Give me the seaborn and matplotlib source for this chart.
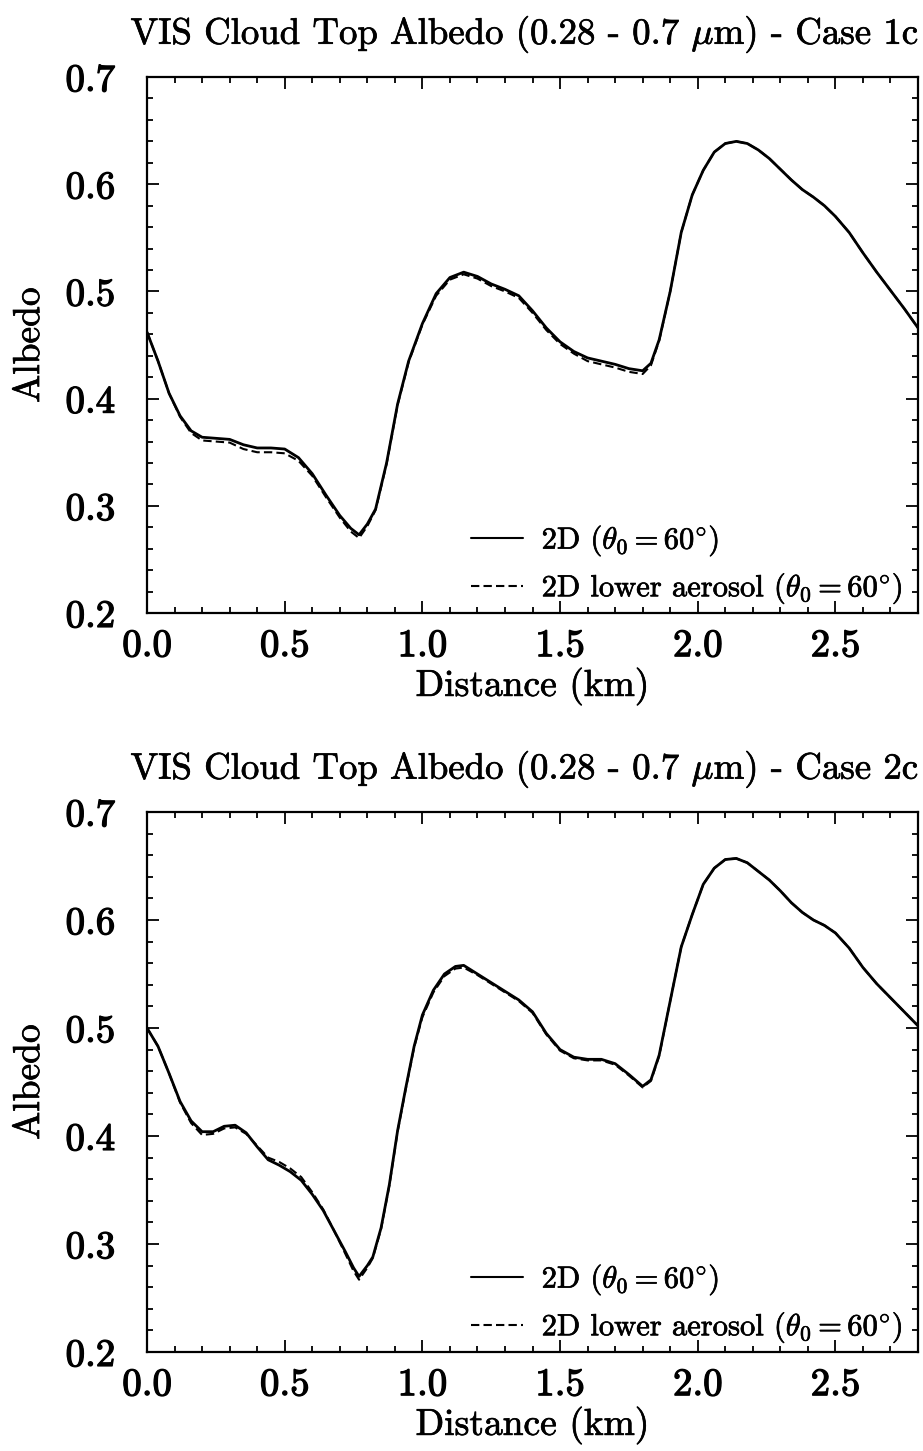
import matplotlib
matplotlib.use("Agg")
import matplotlib.pyplot as plt
import matplotlib.patheffects as pe
import numpy as np
import pandas as pd
import seaborn as sns
from matplotlib.ticker import MultipleLocator, FormatStrFormatter

# ---- Case 1c ----
distance_1c = [0.00, 0.04, 0.08, 0.12, 0.16, 0.20, 0.25, 0.30, 0.35, 0.40, 0.45, 0.50,
               0.55, 0.60, 0.65, 0.70, 0.74, 0.77, 0.80, 0.83, 0.87, 0.91, 0.95, 1.00,
               1.05, 1.10, 1.15, 1.20, 1.25, 1.30, 1.35, 1.40, 1.45, 1.50, 1.55, 1.60,
               1.65, 1.70, 1.75, 1.80, 1.83, 1.86, 1.90, 1.94, 1.98, 2.02, 2.06, 2.10,
               2.14, 2.18, 2.22, 2.26, 2.30, 2.34, 2.38, 2.42, 2.46, 2.50, 2.55, 2.60,
               2.65, 2.70, 2.75, 2.80]
albedo_2d_1c = [0.462, 0.435, 0.405, 0.384, 0.370, 0.364, 0.363, 0.362, 0.357, 0.354, 0.354, 0.353,
                0.345, 0.330, 0.310, 0.291, 0.279, 0.273, 0.283, 0.297, 0.340, 0.395, 0.435, 0.470,
                0.498, 0.513, 0.518, 0.514, 0.507, 0.502, 0.496, 0.482, 0.466, 0.453, 0.444, 0.438,
                0.435, 0.432, 0.428, 0.426, 0.433, 0.455, 0.500, 0.555, 0.590, 0.613, 0.630, 0.638,
                0.640, 0.638, 0.632, 0.624, 0.614, 0.604, 0.595, 0.588, 0.580, 0.570, 0.555, 0.536,
                0.518, 0.501, 0.484, 0.466]
albedo_low_1c = [0.462, 0.435, 0.405, 0.383, 0.368, 0.361, 0.360, 0.359, 0.353, 0.350, 0.350, 0.349,
                 0.342, 0.328, 0.308, 0.289, 0.276, 0.270, 0.281, 0.296, 0.339, 0.394, 0.434, 0.469,
                 0.496, 0.511, 0.516, 0.512, 0.505, 0.500, 0.494, 0.480, 0.464, 0.451, 0.442, 0.435,
                 0.432, 0.429, 0.425, 0.423, 0.431, 0.454, 0.500, 0.555, 0.590, 0.613, 0.630, 0.638,
                 0.640, 0.638, 0.632, 0.624, 0.614, 0.604, 0.595, 0.588, 0.580, 0.570, 0.555, 0.536,
                 0.518, 0.501, 0.484, 0.466]

# ---- Case 2c ----
distance_2c = [0.00, 0.04, 0.08, 0.12, 0.16, 0.20, 0.24, 0.28, 0.32, 0.36, 0.40, 0.44,
               0.48, 0.52, 0.56, 0.60, 0.64, 0.68, 0.72, 0.75, 0.77, 0.80, 0.82, 0.85,
               0.88, 0.91, 0.94, 0.97, 1.00, 1.04, 1.08, 1.12, 1.15, 1.20, 1.25, 1.30,
               1.35, 1.40, 1.45, 1.50, 1.55, 1.60, 1.65, 1.70, 1.75, 1.80, 1.83, 1.86,
               1.90, 1.94, 1.98, 2.02, 2.06, 2.10, 2.14, 2.18, 2.22, 2.26, 2.30, 2.34,
               2.38, 2.42, 2.46, 2.50, 2.55, 2.60, 2.65, 2.70, 2.75, 2.80]
albedo_2d_2c = [0.500, 0.483, 0.458, 0.432, 0.414, 0.404, 0.404, 0.409, 0.410, 0.403, 0.390, 0.378,
                0.373, 0.367, 0.359, 0.346, 0.331, 0.312, 0.293, 0.278, 0.270, 0.280, 0.288, 0.315,
                0.355, 0.405, 0.445, 0.483, 0.512, 0.535, 0.550, 0.557, 0.558, 0.550, 0.542, 0.534,
                0.526, 0.515, 0.495, 0.480, 0.473, 0.471, 0.471, 0.467, 0.457, 0.446, 0.452, 0.475,
                0.525, 0.575, 0.605, 0.633, 0.648, 0.656, 0.657, 0.653, 0.645, 0.637, 0.627, 0.616,
                0.607, 0.600, 0.595, 0.588, 0.574, 0.556, 0.541, 0.528, 0.515, 0.502]
albedo_low_2c = [0.500, 0.483, 0.458, 0.431, 0.412, 0.401, 0.402, 0.407, 0.408, 0.402, 0.391, 0.380,
                 0.376, 0.370, 0.362, 0.348, 0.332, 0.312, 0.291, 0.275, 0.267, 0.278, 0.287, 0.314,
                 0.354, 0.404, 0.444, 0.482, 0.510, 0.533, 0.548, 0.555, 0.556, 0.549, 0.541, 0.533,
                 0.525, 0.514, 0.494, 0.479, 0.472, 0.470, 0.470, 0.466, 0.456, 0.445, 0.451, 0.474,
                 0.525, 0.575, 0.605, 0.633, 0.648, 0.656, 0.657, 0.653, 0.645, 0.637, 0.627, 0.616,
                 0.607, 0.600, 0.595, 0.588, 0.574, 0.556, 0.541, 0.528, 0.515, 0.502]

x_ticks = [0.0, 0.5, 1.0, 1.5, 2.0, 2.5]
y_ticks = [0.2, 0.3, 0.4, 0.5, 0.6, 0.7]
case_names = ["1c", "2c"]
label_2d = r"2D ($\theta_0 = 60^{\circ}$)"
label_low = r"2D lower aerosol ($\theta_0 = 60^{\circ}$)"

sns.set_theme(style="ticks")
plt.rcParams.update({
    "font.family": "cmr10",
    "mathtext.fontset": "cm",
    "axes.formatter.use_mathtext": True,
    "axes.unicode_minus": False,
    "axes.edgecolor": "black",
    "axes.linewidth": 1.6,
    "text.color": "black",
    "axes.labelcolor": "black",
    "xtick.color": "black",
    "ytick.color": "black",
})

# slight stroke so the glyphs read as heavy as printed type
heavy = [pe.withStroke(linewidth=0.9, foreground="black")]
medium = [pe.withStroke(linewidth=0.5, foreground="black")]

fig = plt.figure(figsize=(9.23, 14.51), dpi=100)
ax_top = fig.add_axes([0.1593, 0.5775, 0.8353, 0.3694])
ax_bot = fig.add_axes([0.1593, 0.0682, 0.8353, 0.3722])

panels = [
    (ax_top, distance_1c, albedo_2d_1c, albedo_low_1c, case_names[0]),
    (ax_bot, distance_2c, albedo_2d_2c, albedo_low_2c, case_names[1]),
]

for ax, dist, a2d, alow, case in panels:
    df = pd.DataFrame({"Distance": dist, "solid": a2d, "low": alow})
    sns.lineplot(data=df, x="Distance", y="solid", ax=ax, color="black",
                 linewidth=2.0, label=label_2d)
    sns.lineplot(data=df, x="Distance", y="low", ax=ax, color="black",
                 linewidth=1.5, linestyle=(0, (4, 2)), label=label_low)

    ax.set_xlim(0.0, 2.8)
    ax.set_ylim(0.2, 0.7)
    ax.set_xticks(x_ticks)
    ax.set_yticks(y_ticks)
    ax.xaxis.set_major_formatter(FormatStrFormatter("%.1f"))
    ax.yaxis.set_major_formatter(FormatStrFormatter("%.1f"))
    ax.xaxis.set_minor_locator(MultipleLocator(0.1))
    ax.yaxis.set_minor_locator(MultipleLocator(0.02))
    ax.tick_params(which="both", direction="in", top=True, right=True,
                   labelsize=28, width=1.3)
    ax.tick_params(which="major", length=8.5)
    ax.tick_params(which="minor", length=4.5)
    ax.tick_params(axis="x", which="major", pad=11)
    ax.tick_params(axis="y", which="major", pad=23)
    for lab in ax.get_xticklabels() + ax.get_yticklabels():
        lab.set_path_effects(heavy)

    xl = ax.set_xlabel("Distance (km)", fontsize=27, labelpad=2)
    yl = ax.set_ylabel("Albedo", fontsize=27, labelpad=14)
    tt = ax.set_title(r"VIS Cloud Top Albedo (0.28 - 0.7 $\mu$m) - Case " + case,
                      fontsize=26.5, pad=24, x=0.49)
    for t in (xl, yl, tt):
        t.set_path_effects(medium)

    leg = ax.legend(loc="lower right", bbox_to_anchor=(0.990, -0.002),
                    frameon=False, fontsize=22, handlelength=1.7,
                    handletextpad=0.6, labelspacing=0.4, borderaxespad=0.0,
                    borderpad=0.25)
    for t in leg.get_texts():
        t.set_path_effects(medium)
    for h in leg.get_lines():
        h.set_linewidth(1.5)

fig.savefig("out.png", dpi=100)
